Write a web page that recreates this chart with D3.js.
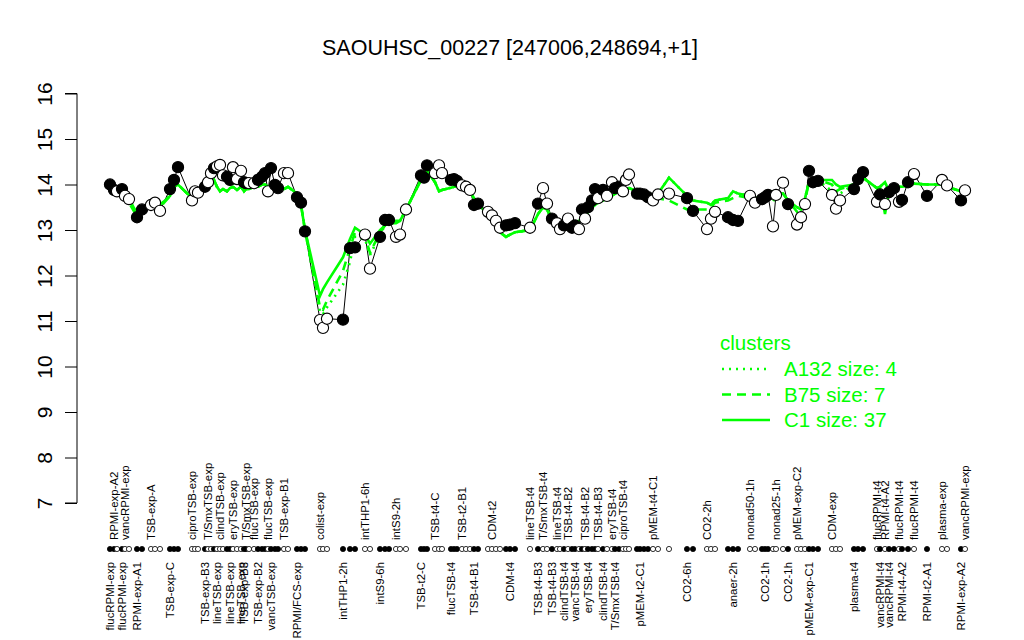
<!DOCTYPE html>
<html><head><meta charset="utf-8">
<script src="https://cdn.jsdelivr.net/npm/d3@7"></script>
<style>body{margin:0;background:#fff}svg{display:block}text{font-family:"Liberation Sans",Arial,Helvetica,sans-serif}</style>
</head><body>
<script>
const title = "SAOUHSC_00227 [247006,248694,+1]";
const positions = [110,114,117,122,125,129,137,142,151,155,160,170,174,178,192,195,198,205,208,211,214,217,220,223,227,230,233,237,241,244,246,249,254,258,262,265,268,271,275,278,284,288,297,301,305,320,323,327,343,350,355,365,370,380,385,389,396,400,406,421,424,427,435,439,442,451,454,457,462,466,470,474,478,488,492,496,500,506,510,515,530,538,543,547,552,557,560,564,568,572,575,579,582,585,588,592,595,598,603,607,612,615,619,623,626,629,637,640,644,648,653,658,669,687,693,707,711,715,728,733,738,750,755,762,765,768,773,776,783,788,797,801,805,809,813,818,832,836,840,854,858,863,877,880,885,889,894,899,902,908,914,927,942,947,961,965];
const values = [14.00,13.88,13.85,13.90,13.75,13.68,13.28,13.45,13.55,13.60,13.42,13.90,14.10,14.38,13.65,13.85,13.82,13.95,14.05,14.25,14.36,14.40,14.43,14.20,14.17,14.10,14.38,14.12,14.30,14.05,14.03,14.03,14.03,14.10,14.17,14.25,13.85,14.36,13.99,13.92,14.25,14.25,13.72,13.60,12.97,11.02,10.85,11.05,11.03,12.60,12.62,12.90,12.15,12.85,13.22,13.22,12.85,12.90,13.45,14.20,14.15,14.42,14.25,14.42,14.25,14.10,14.12,14.08,13.98,13.95,13.88,13.55,13.58,13.40,13.32,13.20,13.05,13.10,13.12,13.15,13.05,13.58,13.92,13.58,13.25,13.15,13.02,13.10,13.25,13.05,13.10,13.02,13.45,13.25,13.50,13.65,13.90,13.70,13.88,13.75,14.05,13.92,13.95,13.85,14.10,14.22,13.80,13.80,13.78,13.72,13.65,13.78,13.80,13.70,13.42,13.02,13.25,13.40,13.28,13.22,13.20,13.75,13.60,13.68,13.72,13.77,13.08,13.77,14.04,13.57,13.12,13.28,13.57,14.30,14.05,14.08,13.77,13.47,13.65,13.90,14.12,14.27,13.62,13.78,13.57,13.83,13.92,13.62,13.66,14.05,14.23,13.75,14.10,13.98,13.65,13.87];
const filled = [1,1,0,1,0,0,1,1,0,0,0,1,1,1,0,0,0,1,0,0,1,0,0,0,1,1,0,0,0,1,1,0,0,1,1,1,0,1,1,1,0,0,1,1,1,0,0,0,1,1,1,0,0,1,1,1,0,0,0,1,1,1,0,0,0,1,1,1,0,0,0,1,1,0,0,0,0,1,1,1,0,1,0,0,1,0,0,1,0,1,1,0,1,0,1,1,1,0,1,0,0,1,1,0,0,0,1,1,1,1,0,0,0,1,1,0,0,0,1,1,1,0,0,1,1,1,0,0,0,1,0,0,0,1,1,1,0,0,0,1,1,1,0,1,0,1,1,0,1,1,0,1,0,0,1,0];
const names = ["flucRPMI-exp","RPMI-exp-A2","","flucRPMI-exp","vancRPMI-exp","","RPMI-exp-A1","","TSB-exp-A","","","TSB-exp-C","","","ciproTSB-exp","","","TSB-exp-B3","T/SmxTSB-exp","","","lineTSB-exp","clindTSB-exp","","","lineTSB-exp","eryTSB-exp","","lineTSB-exp","TSB-exp-B3","T/SmxTSB-exp","","flucTSB-exp","TSB-exp-B2","","","flucTSB-exp","vancTSB-exp","","","TSB-exp-B1","","RPMI/FCS-exp","","","colist-exp","","","intTHP1-2h","","","intTHP1-6h","","intS9-6h","","","intS9-2h","","","TSB-t2-C","","","TSB-t4-C","","","flucTSB-t4","","","TSB-t2-B1","","","TSB-t4-B1","","","CDM-t2","","","","CDM-t4","","lineTSB-t4","TSB-t4-B3","T/SmxTSB-t4","","TSB-t4-B3","lineTSB-t4","","clindTSB-t4","TSB-t4-B2","","vancTSB-t4","","","TSB-t4-B2","eryTSB-t4","","","TSB-t4-B3","clindTSB-t4","","eryTSB-t4","T/SmxTSB-t4","","ciproTSB-t4","","","","pMEM-t2-C1","","","pMEM-t4-C1","","","CO2-6h","","CO2-2h","","","","anaer-2h","","nonad50-1h","","","CO2-1h","","","nonad25-1h","","CO2-1h","pMEM-exp-C2","","","pMEM-exp-C1","","","CDM-exp","","","plasma-t4","","","flucRPMI-t4","vancRPMI-t4","RPMI-t4-A2","vancRPMI-t4","","flucRPMI-t4","RPMI-t4-A2","","flucRPMI-t4","RPMI-t2-A1","plasma-exp","","RPMI-exp-A2","vancRPMI-exp"];
const sides = ["b","t","","b","t","","b","","t","","","b","","","t","","","b","t","","","b","t","","","b","t","","b","b","t","","t","b","","","t","b","","","t","","b","","","t","","","b","","","t","","b","","","t","","","b","","","t","","","b","","","t","","","b","","","t","","","","b","","t","b","t","","b","t","","b","t","","b","","","t","b","","","t","b","","t","b","","t","","","","b","","","t","","","b","","t","","","","b","","t","","","b","","","t","","b","t","","","b","","","t","","","b","","","t","b","t","b","","t","b","","t","b","t","","b","t"];
const c1 = [14.0,13.95,13.9,13.85,13.8,13.7,13.35,13.45,13.5,13.55,13.55,13.75,13.95,14.0,13.7,13.75,13.85,13.9,14.1,14.05,14.1,13.95,13.85,13.9,13.85,13.92,13.95,13.88,13.95,13.85,13.9,13.9,13.95,13.95,14.0,14.0,13.95,14.0,13.98,13.95,13.9,13.95,13.8,13.55,13.0,11.55,11.7,11.85,12.4,12.8,13.05,12.9,12.7,13.0,13.1,13.15,13.2,13.2,13.45,14.1,14.2,14.3,14.05,13.85,13.88,13.93,13.95,13.95,13.97,13.95,13.85,13.7,13.6,13.3,13.2,13.1,12.95,12.85,12.9,12.95,13.0,13.35,13.5,13.45,13.25,13.05,13.0,13.0,13.05,13.08,13.1,13.2,13.25,13.3,13.4,13.5,13.55,13.6,13.65,13.7,13.75,13.8,13.85,13.88,13.9,13.92,13.85,13.82,13.8,13.8,13.78,13.8,14.15,13.75,13.65,13.6,13.55,13.65,13.7,13.85,13.8,13.75,13.7,13.7,13.75,13.8,13.85,13.82,13.8,13.65,13.5,13.45,13.7,14.05,14.1,14.1,14.1,14.0,13.95,14.0,14.1,14.15,13.92,13.95,14.05,13.85,13.95,13.95,13.95,13.97,14.02,14.0,14.0,13.95,13.85,13.85];
const b75 = [14.0,13.95,13.85,13.8,13.7,13.6,13.3,13.45,13.5,13.55,13.5,13.75,13.95,14.0,13.7,13.75,13.85,13.9,14.05,14.05,14.1,13.95,13.85,13.9,13.85,13.92,13.95,13.88,13.95,13.85,13.9,13.9,13.95,13.95,14.0,14.0,13.95,14.0,13.98,13.95,13.9,13.95,13.8,13.55,13.0,11.3,11.25,11.45,12.1,12.6,12.95,12.85,12.5,12.95,13.1,13.15,13.15,13.2,13.45,14.1,14.2,14.3,14.05,13.85,13.88,13.93,13.95,13.95,13.97,13.95,13.85,13.7,13.6,13.3,13.2,13.1,12.95,12.85,12.9,12.95,13.0,13.35,13.5,13.45,13.2,13.05,13.0,13.0,13.05,13.08,13.1,13.2,13.25,13.3,13.4,13.5,13.55,13.6,13.65,13.7,13.75,13.8,13.85,13.88,13.9,13.92,13.85,13.82,13.8,13.8,13.75,13.7,13.65,13.45,13.45,13.45,13.5,13.6,13.65,13.7,13.75,13.7,13.65,13.65,13.75,13.8,13.6,13.8,13.8,13.65,13.4,13.4,13.65,14.05,14.1,14.1,14.0,13.85,13.9,14.0,14.1,14.15,13.92,13.95,13.35,13.85,13.95,13.95,13.95,13.97,14.02,14.0,14.0,13.95,13.85,13.85];
const a132 = [14.0,13.95,13.9,13.85,13.8,13.7,13.35,13.45,13.5,13.55,13.55,13.75,13.95,14.0,13.7,13.75,13.85,13.9,14.1,14.05,14.1,13.95,13.85,13.9,13.85,13.92,13.95,13.88,13.95,13.85,13.9,13.9,13.95,13.95,14.0,14.0,13.95,14.0,13.98,13.95,13.9,13.95,13.8,13.55,13.0,11.2,11.15,11.3,11.8,12.3,12.85,12.8,12.45,12.9,13.1,13.15,13.2,13.2,13.45,14.1,14.2,14.3,14.05,13.85,13.88,13.93,13.95,13.95,13.97,13.95,13.85,13.7,13.6,13.3,13.2,13.1,12.95,12.85,12.9,12.95,13.0,13.35,13.5,13.45,13.25,13.05,13.0,13.0,13.05,13.08,13.1,13.2,13.25,13.3,13.4,13.5,13.55,13.6,13.65,13.7,13.75,13.8,13.85,13.88,13.9,13.92,13.85,13.82,13.8,13.8,13.78,13.8,14.15,13.75,13.65,13.6,13.55,13.65,13.7,13.85,13.8,13.75,13.7,13.7,13.75,13.8,13.85,13.82,13.8,13.65,13.5,13.45,13.7,14.05,14.1,14.1,13.85,13.6,13.8,14.0,14.1,14.15,13.92,13.95,14.05,13.85,13.95,13.95,13.95,13.97,14.02,14.0,14.0,13.95,13.85,13.85];
const yTicks = [7,8,9,10,11,12,13,14,15,16];
const legendTitle = "clusters";
const legendLabels = ["A132 size: 4","B75 size: 7","C1 size: 37"];
const legendDash = ["2,5","9,6",null];

const W = 1024, H = 640;
const svg = d3.select("body").append("svg").attr("width", W).attr("height", H);
const x = d3.scaleLinear().domain([100, 975]).range([100, 975]);
const y = d3.scaleLinear().domain([7, 16]).range([503, 93.5]);
const green = "#00ff00";

svg.append("text").attr("x", 510).attr("y", 55).attr("text-anchor", "middle")
  .attr("font-size", 21.5).text(title);

// y axis
const yAxis = d3.axisLeft(y).tickValues(yTicks).tickSize(12).tickPadding(10).tickFormat(d3.format("d"));
const ga = svg.append("g").attr("transform", "translate(77,0)").call(yAxis);
ga.select(".domain").attr("stroke", "#000").attr("d", `M-12,${y(7)}H0V${y(16)}H-12`);
ga.selectAll(".tick line").attr("stroke", "#000");
ga.selectAll(".tick text").attr("font-size", 21).attr("fill", "#000")
  .attr("font-family", '"Liberation Sans",Arial,sans-serif')
  .attr("text-anchor", "middle").attr("dy", "0")
  .attr("transform", `translate(-32,0) rotate(-90)`)
  .attr("x", 0).attr("y", 7);

const idx = d3.range(positions.length);

// black line through points
svg.append("path").datum(idx).attr("fill", "none").attr("stroke", "#000").attr("stroke-width", 1)
  .attr("d", d3.line().x(i => x(positions[i])).y(i => y(values[i])));

// cluster lines
const clusterSeries = [a132, b75, c1];
clusterSeries.forEach((arr, k) => {
  svg.append("path").datum(idx).attr("fill", "none").attr("stroke", green)
    .attr("stroke-width", 2.6).attr("stroke-dasharray", legendDash[k])
    .attr("d", d3.line().x(i => x(positions[i])).y(i => y(arr[i])));
});

// points
svg.append("g").selectAll("circle").data(idx).join("circle")
  .attr("cx", i => x(positions[i])).attr("cy", i => y(values[i])).attr("r", 5.6)
  .attr("fill", i => filled[i] ? "#000" : "#fff").attr("stroke", "#000").attr("stroke-width", 1.1);

// dot row
const rowY = 549;
svg.append("g").selectAll("circle").data(idx).join("circle")
  .attr("cx", i => x(positions[i])).attr("cy", rowY).attr("r", 2.6)
  .attr("fill", i => filled[i] ? "#000" : "#fff").attr("stroke", "#000").attr("stroke-width", 0.8);

// labels
const lab = svg.append("g").attr("font-size", 11.4);
idx.filter(i => sides[i] === "t").forEach(i => {
  lab.append("text").attr("transform", `translate(${x(positions[i]) + 4},540) rotate(-90)`)
    .attr("text-anchor", "start").text(names[i]);
});
idx.filter(i => sides[i] === "b").forEach(i => {
  lab.append("text").attr("transform", `translate(${x(positions[i]) + 4},562) rotate(-90)`)
    .attr("text-anchor", "end").text(names[i]);
});

// legend
const lg = svg.append("g");
lg.append("text").attr("x", 720).attr("y", 350).attr("font-size", 20.5).attr("fill", green).text(legendTitle);
legendLabels.forEach((t, k) => {
  const yy = 369 + k * 25.5;
  lg.append("line").attr("x1", 722).attr("x2", 770).attr("y1", yy).attr("y2", yy)
    .attr("stroke", green).attr("stroke-width", 2.6).attr("stroke-dasharray", legendDash[k]);
  lg.append("text").attr("x", 784).attr("y", yy + 7).attr("font-size", 20.5).attr("fill", green).text(t);
});
</script>
</body></html>
